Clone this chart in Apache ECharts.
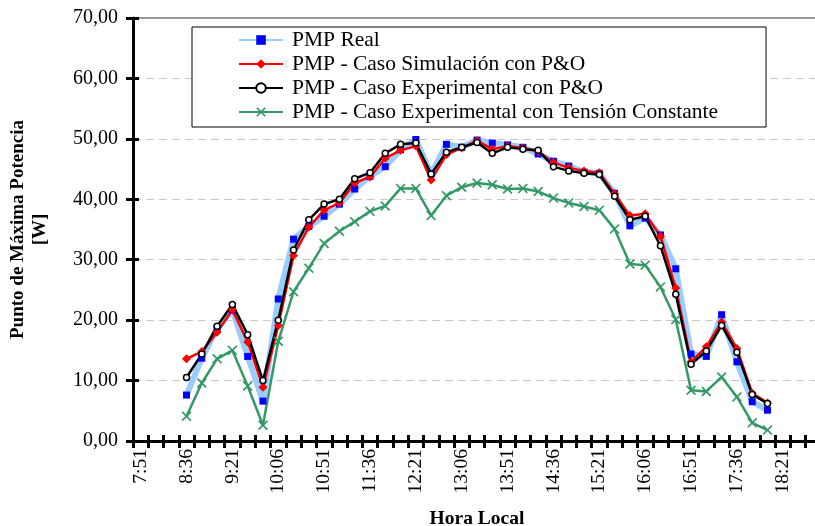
<!DOCTYPE html>
<html><head><meta charset="utf-8">
<script src="https://cdn.jsdelivr.net/npm/echarts@6/dist/echarts.min.js"></script>
<style>html,body{margin:0;padding:0;background:#fff}#c{width:815px;height:526px}</style>
</head><body><div id="c"></div>
<script>
var categories = ["7:51","8:06","8:21","8:36","8:51","9:06","9:21","9:36","9:51","10:06","10:21","10:36","10:51","11:06","11:21","11:36","11:51","12:06","12:21","12:36","12:51","13:06","13:21","13:36","13:51","14:06","14:21","14:36","14:51","15:06","15:21","15:36","15:51","16:06","16:21","16:36","16:51","17:06","17:21","17:36","17:51","18:06","18:21","18:36","18:51"];
var times = ["8:36","8:51","9:06","9:21","9:36","9:51","10:06","10:21","10:36","10:51","11:06","11:21","11:36","11:51","12:06","12:21","12:36","12:51","13:06","13:21","13:36","13:51","14:06","14:21","14:36","14:51","15:06","15:21","15:36","15:51","16:06","16:21","16:36","16:51","17:06","17:21","17:36","17:51","18:06"];
var pmpReal = [7.6,13.7,18.6,21.7,14.0,6.6,23.5,33.4,35.5,37.2,39.2,41.7,43.8,45.4,48.2,49.9,44.2,49.1,48.6,49.8,49.3,49.0,48.6,47.5,46.3,45.5,44.5,44.3,41.0,35.6,36.9,34.1,28.5,14.4,14.0,20.9,13.1,6.5,5.1];
var pmpSim = [13.6,14.8,18.0,21.7,16.4,8.9,19.1,30.7,35.4,38.2,39.4,42.7,43.7,46.8,48.1,48.8,43.2,47.4,48.5,49.7,48.3,48.8,48.5,47.9,46.1,45.2,44.7,44.4,40.9,37.3,37.6,33.9,25.3,13.1,15.6,19.7,15.3,7.9,6.3];
var pmpExpPO = [10.5,14.4,19.0,22.6,17.6,10.0,20.0,31.6,36.6,39.2,40.0,43.4,44.4,47.6,49.1,49.3,44.2,47.8,48.6,49.4,47.6,48.6,48.3,48.1,45.4,44.7,44.3,44.1,40.5,36.6,37.2,32.3,24.3,12.7,14.9,19.1,14.7,7.7,6.2];
var pmpExpTC = [4.1,9.6,13.6,15.0,9.1,2.6,16.5,24.7,28.6,32.7,34.7,36.3,38.0,38.9,41.8,41.8,37.3,40.6,42.0,42.7,42.4,41.7,41.8,41.3,40.2,39.4,38.8,38.2,35.1,29.3,29.1,25.5,20.1,8.4,8.2,10.6,7.3,3.0,1.8];
var seriesNames = ["PMP Real","PMP - Caso Simulación con P&O","PMP - Caso Experimental con P&O","PMP - Caso Experimental con Tensión Constante"];

function pairs(vals){ return vals.map(function(v,i){ return [times[i], v]; }); }
var FONT = "Liberation Serif";
var xShape = 'path://M0,1.2L1.2,0L5,3.8L8.8,0L10,1.2L6.2,5L10,8.8L8.8,10L5,6.2L1.2,10L0,8.8L3.8,5Z';

var chart = echarts.init(document.getElementById('c'));
chart.setOption({
  animation: false,
  backgroundColor: '#fff',
  textStyle: { fontFamily: FONT, color: '#000' },
  grid: { left: 133, right: -6, top: 18, bottom: 85, outerBoundsMode: 'none', containLabel: false },
  legend: {
    orient: 'vertical', left: 192, top: 27,
    padding: [2, 48, 4, 46],
    backgroundColor: '#fff', borderColor: '#000', borderWidth: 1,
    itemWidth: 44, itemHeight: 12, itemGap: 2,
    textStyle: { fontFamily: FONT, fontSize: 21.5, color: '#000', lineHeight: 20, padding: [0,0,0,4] },
    data: seriesNames
  },
  xAxis: [{
    type: 'category', data: categories, boundaryGap: true, position: 'bottom',
    axisLine: { lineStyle: { color: '#000', width: 3 } },
    axisTick: { show: true, interval: 0, length: 7, lineStyle: { color: '#000', width: 3 } },
    axisLabel: { interval: 2, rotate: 90, margin: 8, fontFamily: FONT, fontSize: 19.5, color: '#000' },
    splitLine: { show: false },
    name: 'Hora Local', nameLocation: 'middle', nameGap: 68,
    nameTextStyle: { fontFamily: FONT, fontSize: 19.5, fontWeight: 'bold', color: '#000' }
  }, {
    type: 'category', data: categories, boundaryGap: true, position: 'bottom',
    axisLine: { show: false },
    axisTick: { show: true, inside: true, interval: 0, length: 6, lineStyle: { color: '#000', width: 3 } },
    axisLabel: { show: false }, splitLine: { show: false }
  }, {
    type: 'category', data: categories, boundaryGap: true, position: 'top',
    axisLine: { lineStyle: { color: '#999', width: 2 } },
    axisTick: { show: false }, axisLabel: { show: false }, splitLine: { show: false }
  }],
  yAxis: [{
    type: 'value', min: 0, max: 70, interval: 10, position: 'left',
    axisLine: { show: true, lineStyle: { color: '#000', width: 3 } },
    axisTick: { show: true, length: 7, lineStyle: { color: '#000', width: 3 } },
    axisLabel: { margin: 15, fontFamily: FONT, fontSize: 20, color: '#000',
      formatter: function(v){ return v.toFixed(2).replace('.', ','); } },
    splitLine: { show: true, lineStyle: { color: '#c8c8c8', width: 1, type: [8, 5] } },
    name: 'Punto de Máxima Potencia\n[W]', nameLocation: 'middle', nameGap: 82, nameRotate: 90,
    nameTextStyle: { fontFamily: FONT, fontSize: 19, fontWeight: 'bold', color: '#000', lineHeight: 22, align: 'center' }
  }, {
    type: 'value', min: 0, max: 70, interval: 10, position: 'left',
    axisLine: { show: false },
    axisTick: { show: true, inside: true, length: 6, lineStyle: { color: '#000', width: 3 } },
    axisLabel: { show: false }, splitLine: { show: false }
  }],
  series: [{
    name: seriesNames[0], type: 'line', data: pairs(pmpReal),
    symbol: 'rect', symbolSize: 7,
    lineStyle: { color: '#99ccff', width: 6 },
    itemStyle: { color: '#0000ff' }
  }, {
    name: seriesNames[1], type: 'line', data: pairs(pmpSim),
    symbol: 'diamond', symbolSize: 9,
    lineStyle: { color: '#ff0000', width: 2.5 },
    itemStyle: { color: '#ff0000' }
  }, {
    name: seriesNames[2], type: 'line', data: pairs(pmpExpPO),
    symbol: 'circle', symbolSize: 6,
    lineStyle: { color: '#000000', width: 2.5 },
    itemStyle: { color: '#ffffff', borderColor: '#000000', borderWidth: 1.5 }
  }, {
    name: seriesNames[3], type: 'line', data: pairs(pmpExpTC),
    symbol: xShape, symbolSize: 10,
    lineStyle: { color: '#339966', width: 2.5 },
    itemStyle: { color: '#339966' }
  }]
});
</script>
</body></html>
